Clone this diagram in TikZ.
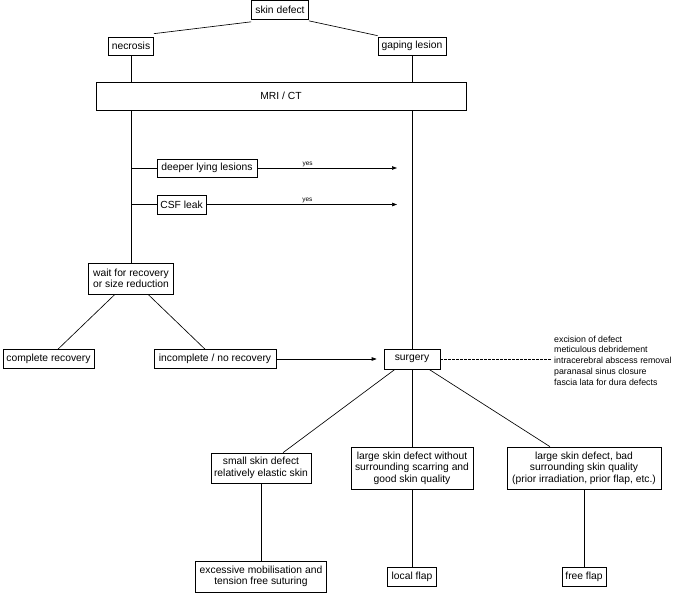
\documentclass[tikz,border=0pt]{standalone}
\usepackage{fontspec}
\setmainfont{Liberation Sans}
\usetikzlibrary{arrows.meta}
\begin{document}
\begin{tikzpicture}[x=1pt,y=-1pt,
  box/.style={draw, line width=0.65pt, font=\fontsize{10.3}{11.5}\selectfont, align=center, inner sep=1pt},
  conn/.style={line width=0.65pt},
  arr/.style={line width=0.65pt, -{Triangle[length=5pt,width=3.5pt]}},
  yeslabel/.style={font=\fontsize{6.5}{7}\selectfont, inner sep=1pt, above},
  side/.style={font=\fontsize{8.8}{10.7}\selectfont, align=left, inner sep=0pt, anchor=west}]
\useasboundingbox (0,0) rectangle (677,593);
\node[box, minimum width=57pt, minimum height=19pt] (sd) at (280,10) {skin defect};
\node[box, minimum width=45pt, minimum height=18pt] (nec) at (131,46) {necrosis};
\node[box, minimum width=68pt, minimum height=18pt] (gap) at (412,46) {gaping lesion};
\node[box, minimum width=370pt, minimum height=28pt] (mri) at (281,96) {MRI / CT};
\node[box, minimum width=100pt, minimum height=18pt] (deep) at (207,168) {deeper lying lesions};
\node[box, minimum width=49pt, minimum height=19pt] (csf) at (181.5,204.5) {CSF leak};
\node[box, minimum width=85pt, minimum height=31pt] (wait) at (131,278.5) {wait for recovery\\or size reduction};
\node[box, minimum width=91pt, minimum height=19pt] (comp) at (48.5,359) {complete recovery};
\node[box, minimum width=122pt, minimum height=19pt] (inc) at (215,359) {incomplete / no recovery};
\node[box, minimum width=56pt, minimum height=20pt] (surg) at (412,359) {surgery};
\node[box, minimum width=100pt, minimum height=30pt] (small) at (261,468) {small skin defect\\relatively elastic skin};
\node[box, minimum width=122pt, minimum height=42pt] (largeA) at (412,468) {large skin defect without\\surrounding scarring and\\good skin quality};
\node[box, minimum width=154pt, minimum height=42pt] (largeB) at (584,468) {large skin defect, bad\\surrounding skin quality\\(prior irradiation, prior flap, etc.)};
\node[box, minimum width=131pt, minimum height=31pt] (exc) at (261,576.5) {excessive mobilisation and\\tension free suturing};
\node[box, minimum width=49pt, minimum height=19pt] (local) at (412,576.5) {local flap};
\node[box, minimum width=44pt, minimum height=19pt] (free) at (584,576.5) {free flap};
\node[side] (meas) at (554,360.5) {excision of defect\\meticulous debridement\\intracerebral abscess removal\\paranasal sinus closure\\fascia lata for dura defects};
\coordinate (dend) at (397,168);
\coordinate (cend) at (397,204.5);
\coordinate (dash) at (551,359);
% connectors
\draw[conn] ([yshift=-2pt]sd.south west) -- ([yshift=3pt]nec.north east);
\draw[conn] ([yshift=-1pt]sd.south east) -- ([yshift=1pt]gap.north west);
\draw[conn] (nec.south) -- (nec.south |- mri.north);
\draw[conn] (gap.south) -- (gap.south |- mri.north);
\draw[conn] (wait.north |- mri.south) -- (wait.north);
\draw[conn] (surg.north |- mri.south) -- (surg.north);
\draw[conn] (deep.west -| wait.north) -- (deep.west);
\draw[conn] (csf.west -| wait.north) -- (csf.west);
\draw[arr] (deep.east) -- node[yeslabel, pos=0.36] {yes} (dend);
\draw[arr] (csf.east) -- node[yeslabel, pos=0.53] {yes} (cend);
\draw[conn] ([xshift=-16pt]wait.south) -- ([xshift=9.5pt]comp.north);
\draw[conn] ([xshift=17pt]wait.south) -- ([xshift=-10pt]inc.north);
\draw[arr] (inc.east) -- ([xshift=-7pt]surg.west);
\draw[conn, dashed, dash pattern=on 2.5pt off 1.5pt] (surg.east) -- (dash);
\draw[conn] ([xshift=-17pt]surg.south) -- ([xshift=22pt]small.north);
\draw[conn] (surg.south) -- (largeA.north);
\draw[conn] ([xshift=17pt]surg.south) -- ([xshift=-34pt]largeB.north);
\draw[conn] (small.south) -- (exc.north);
\draw[conn] (largeA.south) -- (local.north);
\draw[conn] (largeB.south) -- (free.north);
\end{tikzpicture}
\end{document}
